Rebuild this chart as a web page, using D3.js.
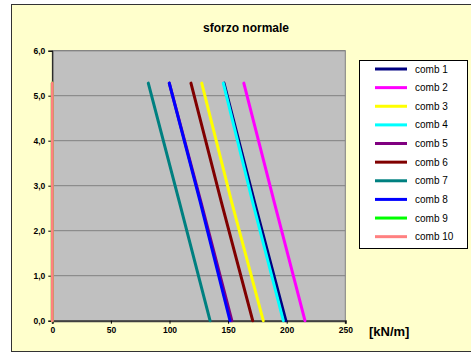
<!DOCTYPE html>
<html><head><meta charset="utf-8">
<script src="https://cdn.jsdelivr.net/npm/d3@7"></script>
<style>body{margin:0;background:#fff}svg{display:block}text{font-family:Arial,"Liberation Sans",sans-serif}</style>
</head><body><svg id="c" width="471" height="353"></svg>
<script>
const heights = [0, 2.64, 5.28];
const seriesNames = ["comb 1","comb 2","comb 3","comb 4","comb 5","comb 6","comb 7","comb 8","comb 9","comb 10"];
const comb1 = [199.3, 172.5, 146.5];
const comb2 = [215.6, 189.3, 163.4];
const comb3 = [180.0, 153.0, 127.5];
const comb4 = [197.1, 170.9, 145.9];
const comb5 = [153.2, 126.8, 99.8];
const comb6 = [171.0, 144.2, 118.3];
const comb7 = [134.6, 108.4, 81.9];
const comb8 = [151.6, 126.2, 99.8];
const comb9 = [0, 0, 0];
const comb10 = [0, 0, 0];
const seriesColors = ["#000080","#FF00FF","#FFFF00","#00FFFF","#800080","#800000","#008080","#0000FF","#00FF00","#FF8080"];
const xTicks = [0, 50, 100, 150, 200, 250];
const yTicks = [0, 1, 2, 3, 4, 5, 6];
const title = "sforzo normale";
const xUnit = "[kN/m]";

const series = [comb1,comb2,comb3,comb4,comb5,comb6,comb7,comb8,comb9,comb10];
const svg = d3.select("#c");
svg.append("rect").attr("x",11.5).attr("y",4.5).attr("width",470).attr("height",347)
  .attr("fill","#FFFFCC").attr("stroke","#333").attr("stroke-width",1);

const L=52.3, R=345.3, T=50.7, B=320.7;
const x = d3.scaleLinear().domain([0,250]).range([L,R]);
const y = d3.scaleLinear().domain([0,6]).range([B,T]);

svg.append("text").attr("x",246).attr("y",32).attr("text-anchor","middle")
  .attr("font-size",12).attr("font-weight","bold").text(title);

svg.append("rect").attr("x",L).attr("y",T).attr("width",R-L).attr("height",B-T).attr("fill","#C0C0C0")
  .attr("stroke","#808080").attr("stroke-width",1);
svg.append("g").selectAll("line").data(yTicks.slice(1)).join("line")
  .attr("x1",L).attr("x2",R).attr("y1",d=>y(d)).attr("y2",d=>y(d)).attr("stroke","#808080").attr("stroke-width",1);

const ya = svg.append("g").attr("transform",`translate(${L},0)`)
  .call(d3.axisLeft(y).tickValues(yTicks).tickSize(4).tickPadding(3).tickFormat(d=>d3.format(".1f")(d).replace(".",",")));
ya.select(".domain").attr("stroke","#000");
ya.selectAll("text").attr("font-size",8.5).attr("font-weight","bold").attr("font-family","Arial,'Liberation Sans',sans-serif");
const xa = svg.append("g").attr("transform",`translate(0,${B})`)
  .call(d3.axisBottom(x).tickValues(xTicks).tickSize(3).tickPadding(3).tickFormat(d3.format("d")));
xa.select(".domain").attr("stroke","#404040").attr("stroke-width",2);
xa.selectAll("text").attr("font-size",8.5).attr("font-weight","bold").attr("font-family","Arial,'Liberation Sans',sans-serif");

svg.append("text").attr("x",369).attr("y",336).attr("font-size",13).attr("font-weight","bold").text(xUnit);

const line = d3.line().x(d=>x(d[0])).y(d=>y(d[1]));
svg.append("g").selectAll("path").data(series).join("path")
  .attr("d",s=>line(s.map((v,i)=>[v,heights[i]])))
  .attr("fill","none").attr("stroke",(s,i)=>seriesColors[i]).attr("stroke-width",3).attr("stroke-linecap","round");

const lg = svg.append("g");
lg.append("rect").attr("x",359.5).attr("y",60.5).attr("width",108).attr("height",188).attr("fill","#fff").attr("stroke","#000");
seriesNames.forEach((n,i)=>{
  const yy = 69 + i*18.63;
  lg.append("line").attr("x1",375).attr("x2",407).attr("y1",yy).attr("y2",yy).attr("stroke",seriesColors[i]).attr("stroke-width",3);
  lg.append("text").attr("x",415).attr("y",yy+3.5).attr("font-size",10).text(n);
});
</script></body></html>
